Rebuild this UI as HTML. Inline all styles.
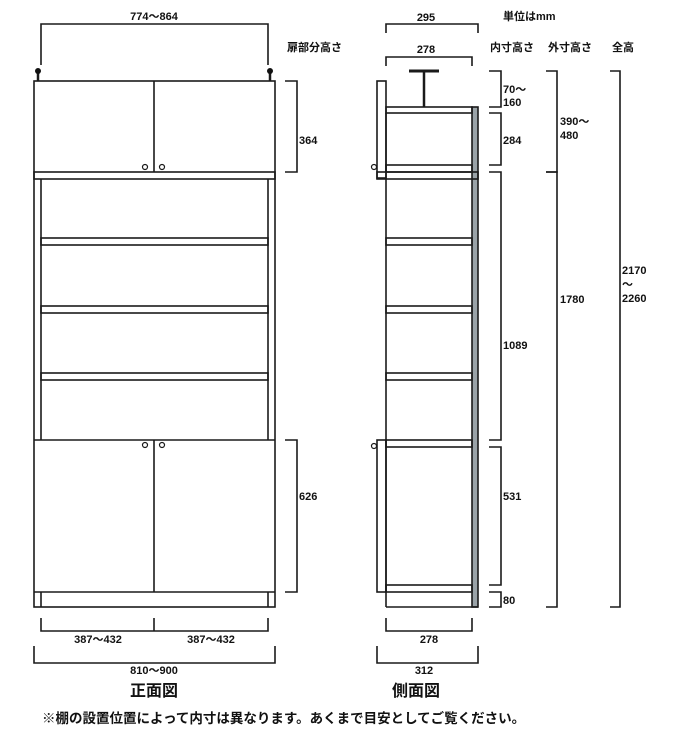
<!DOCTYPE html>
<html><head><meta charset="utf-8"><style>
html,body{margin:0;padding:0;background:#fff;width:700px;height:734px;overflow:hidden}
svg{display:block}
text{font-family:"Liberation Sans","Noto Sans CJK JP",sans-serif;fill:#111}
</style></head><body>
<svg width="700" height="734" viewBox="0 0 700 734" xmlns="http://www.w3.org/2000/svg">
<g fill="none" stroke="#1a1a1a" stroke-width="1.6">
<!-- FRONT -->
<polyline points="41,65 41,24 268,24 268,65"/>
<line x1="38" y1="72" x2="38" y2="81" stroke-width="2.5"/>
<line x1="270" y1="72" x2="270" y2="81" stroke-width="2.5"/>
<rect x="34" y="81" width="241" height="526"/>
<line x1="154" y1="81" x2="154" y2="172"/>
<rect x="34" y="172" width="241" height="7"/>
<line x1="41" y1="179" x2="41" y2="440"/>
<line x1="268" y1="179" x2="268" y2="440"/>
<rect x="41" y="238" width="227" height="7"/>
<rect x="41" y="306" width="227" height="7"/>
<rect x="41" y="373" width="227" height="7"/>
<line x1="34" y1="440" x2="275" y2="440"/>
<line x1="154" y1="440" x2="154" y2="592"/>
<line x1="34" y1="592" x2="275" y2="592"/>
<line x1="41" y1="592" x2="41" y2="607"/>
<line x1="268" y1="592" x2="268" y2="607"/>
<circle cx="145" cy="167" r="2.5" stroke-width="1.2"/>
<circle cx="162" cy="167" r="2.5" stroke-width="1.2"/>
<circle cx="145" cy="445" r="2.5" stroke-width="1.2"/>
<circle cx="162" cy="445" r="2.5" stroke-width="1.2"/>
<polyline points="285,81 297,81 297,172 285,172"/>
<polyline points="285,440 297,440 297,592 285,592"/>
<polyline points="41,618 41,631 268,631 268,618"/>
<line x1="154" y1="618" x2="154" y2="631"/>
<polyline points="34,646 34,663 275,663 275,646"/>
<!-- SIDE -->
<polyline points="386,33 386,24 478,24 478,33"/>
<polyline points="386,66 386,57 472,57 472,66"/>
<line x1="409" y1="71" x2="439" y2="71" stroke-width="3"/>
<line x1="424" y1="71" x2="424" y2="107" stroke-width="2.5"/>
<rect x="377" y="81" width="9" height="97"/>
<rect x="472" y="107" width="6" height="500" fill="#9aa3a8"/>
<rect x="386" y="107" width="86" height="6"/>
<line x1="386" y1="113" x2="386" y2="607"/>
<rect x="386" y="165" width="86" height="7"/>
<rect x="377" y="172" width="101" height="7"/>
<rect x="386" y="238" width="86" height="7"/>
<rect x="386" y="306" width="86" height="7"/>
<rect x="386" y="373" width="86" height="7"/>
<rect x="377" y="440" width="9" height="152"/>
<rect x="386" y="440" width="86" height="7"/>
<rect x="386" y="585" width="86" height="7"/>
<line x1="386" y1="607" x2="478" y2="607"/>
<circle cx="374" cy="167" r="2.5" stroke-width="1.2"/>
<circle cx="374" cy="446" r="2.5" stroke-width="1.2"/>
<polyline points="386,618 386,631 472,631 472,618"/>
<polyline points="377,646 377,663 478,663 478,646"/>
<polyline points="489,71 501,71 501,107 489,107"/>
<polyline points="489,113 501,113 501,165 489,165"/>
<polyline points="489,172 501,172 501,440 489,440"/>
<polyline points="489,447 501,447 501,585 489,585"/>
<polyline points="489,592 501,592 501,607 489,607"/>
<polyline points="546,71 557,71 557,172 546,172"/>
<polyline points="546,172 557,172 557,607 546,607"/>
<polyline points="610,71 620,71 620,607 610,607"/>
</g>
<circle cx="38" cy="71" r="3" fill="#111"/>
<circle cx="270" cy="71" r="3" fill="#111"/>
<g font-size="11" font-weight="bold">
<text x="154" y="20" text-anchor="middle">774～864</text>
<text x="299" y="144">364</text>
<text x="299" y="500">626</text>
<text x="98" y="643" text-anchor="middle">387～432</text>
<text x="211" y="643" text-anchor="middle">387～432</text>
<text x="154" y="674" text-anchor="middle">810～900</text>
<text x="426" y="21" text-anchor="middle">295</text>
<text x="426" y="53" text-anchor="middle">278</text>
<text x="429" y="643" text-anchor="middle">278</text>
<text x="424" y="674" text-anchor="middle">312</text>
<text x="503" y="93">70～</text>
<text x="503" y="106">160</text>
<text x="503" y="144">284</text>
<text x="503" y="349">1089</text>
<text x="503" y="500">531</text>
<text x="503" y="604">80</text>
<text x="560" y="125">390～</text>
<text x="560" y="139">480</text>
<text x="560" y="303">1780</text>
<text x="622" y="274">2170</text>
<text x="622" y="288">～</text>
<text x="622" y="302">2260</text>
<text x="503" y="20">単位はmm</text>
<text x="287" y="51">扉部分高さ</text>
<text x="490" y="51">内寸高さ</text>
<text x="548" y="51">外寸高さ</text>
<text x="612" y="51">全高</text>
</g>
<text x="154" y="696" font-size="16" font-weight="bold" text-anchor="middle">正面図</text>
<text x="416" y="696" font-size="16" font-weight="bold" text-anchor="middle">側面図</text>
<text x="42" y="723" font-size="13.5" font-weight="bold">※棚の設置位置によって内寸は異なります。あくまで目安としてご覧ください。</text>
</svg>
</body></html>
